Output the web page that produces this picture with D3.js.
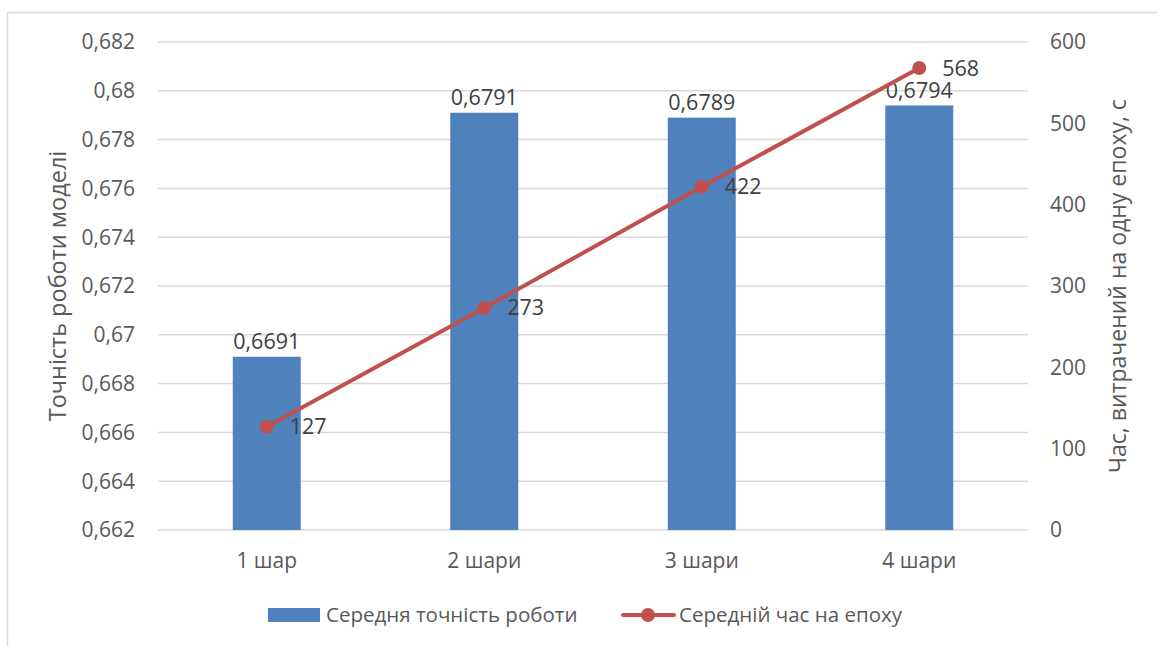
<!DOCTYPE html>
<html>
<head>
<meta charset="utf-8">
<script src="https://cdn.jsdelivr.net/npm/d3@7"></script>
<style>
  html, body { margin: 0; padding: 0; background: #fff; }
  svg { display: block; }
  text { font-family: "Open Sans", "Noto Sans", sans-serif; fill: #595959; }
</style>
</head>
<body>
<svg id="chart" width="1157" height="646"></svg>
<script>
// Categories: number of layers
const categories = ["1 шар", "2 шари", "3 шари", "4 шари"];
// Mean model accuracy (bars, left axis)
const accuracy = [0.6691, 0.6791, 0.6789, 0.6794];
// Mean time per epoch, seconds (line, right axis)
const epochTime = [127, 273, 422, 568];
// Axis ticks
const leftTicks = [0.662, 0.664, 0.666, 0.668, 0.670, 0.672, 0.674, 0.676, 0.678, 0.680, 0.682];
const rightTicks = [0, 100, 200, 300, 400, 500, 600];
const seriesNames = ["Середня точність роботи", "Середній час на епоху"];
const leftTitle = "Точність роботи моделі";
const rightTitle = "Час, витрачений на одну епоху, с";

const svg = d3.select("#chart");
const W = 1157, H = 646;
const plot = { left: 158, right: 1028, top: 42, bottom: 530 };
const barColor = "#4f81bd", lineColor = "#c0504d", gridColor = "#d9d9d9";

const commaFmt = v => String(v).replace(".", ",");

// Outer chart frame
svg.append("path")
  .attr("d", `M7.5,${H} L7.5,12.5 L${W},12.5`)
  .attr("fill", "none").attr("stroke", gridColor).attr("stroke-width", 1.5);

const x = d3.scaleBand().domain(categories).range([plot.left, plot.right]).paddingInner(0).paddingOuter(0);
const yL = d3.scaleLinear().domain([0.662, 0.682]).range([plot.bottom, plot.top]);
const yR = d3.scaleLinear().domain([0, 600]).range([plot.bottom, plot.top]);

// Gridlines
svg.append("g").selectAll("line").data(leftTicks).join("line")
  .attr("x1", plot.left).attr("x2", plot.right)
  .attr("y1", d => yL(d)).attr("y2", d => yL(d))
  .attr("stroke", gridColor).attr("stroke-width", 1.5);

// Left axis labels
const fmtL = v => commaFmt(+v.toFixed(3));
svg.append("g").selectAll("text").data(leftTicks).join("text")
  .attr("x", 135).attr("y", d => yL(d)).attr("dy", "0.35em")
  .attr("text-anchor", "end").style("font-size", "21px")
  .text(fmtL);

// Right axis labels
svg.append("g").selectAll("text").data(rightTicks).join("text")
  .attr("x", 1050).attr("y", d => yR(d)).attr("dy", "0.35em")
  .attr("text-anchor", "start").style("font-size", "21px")
  .text(d => d);

// Category labels
svg.append("g").selectAll("text").data(categories).join("text")
  .attr("x", d => x(d) + x.bandwidth() / 2).attr("y", 561).attr("dy", "0.35em")
  .attr("text-anchor", "middle").style("font-size", "21px")
  .text(d => d);

// Axis titles
svg.append("text")
  .attr("transform", `translate(58,${(plot.top + plot.bottom) / 2}) rotate(-90)`)
  .attr("text-anchor", "middle").attr("dy", "0.35em").style("font-size", "23.5px")
  .text(leftTitle);
svg.append("text")
  .attr("transform", `translate(1118,${(plot.top + plot.bottom) / 2}) rotate(-90)`)
  .attr("text-anchor", "middle").attr("dy", "0.35em").style("font-size", "23px")
  .text(rightTitle);

// Bars
const barW = x.bandwidth() * 0.3125;
svg.append("g").selectAll("rect").data(categories).join("rect")
  .attr("x", d => x(d) + (x.bandwidth() - barW) / 2)
  .attr("width", barW)
  .attr("y", (d, i) => yL(accuracy[i]))
  .attr("height", (d, i) => plot.bottom - yL(accuracy[i]))
  .attr("fill", barColor);

// Bar value labels
svg.append("g").selectAll("text").data(categories).join("text")
  .attr("x", d => x(d) + x.bandwidth() / 2)
  .attr("y", (d, i) => yL(accuracy[i]) - 15).attr("dy", "0.35em")
  .attr("text-anchor", "middle").style("font-size", "21.5px").style("fill", "#404040")
  .text((d, i) => commaFmt(accuracy[i]));

// Line series
const cx = d => x(d) + x.bandwidth() / 2;
const line = d3.line().x((d, i) => cx(categories[i])).y(d => yR(d));
svg.append("path").datum(epochTime)
  .attr("d", line).attr("fill", "none")
  .attr("stroke", lineColor).attr("stroke-width", 4).attr("stroke-linecap", "round");
svg.append("g").selectAll("circle").data(epochTime).join("circle")
  .attr("cx", (d, i) => cx(categories[i])).attr("cy", d => yR(d)).attr("r", 7)
  .attr("fill", lineColor);
svg.append("g").selectAll("text").data(epochTime).join("text")
  .attr("x", (d, i) => cx(categories[i]) + 23).attr("y", d => yR(d)).attr("dy", "0.35em")
  .attr("text-anchor", "start").style("font-size", "21.5px").style("fill", "#404040")
  .text(d => d);

// Legend
const lg = svg.append("g");
lg.append("rect").attr("x", 268).attr("y", 608).attr("width", 52).attr("height", 14).attr("fill", barColor);
lg.append("text").attr("x", 326).attr("y", 615).attr("dy", "0.35em").style("font-size", "20.5px").text(seriesNames[0]);
lg.append("line").attr("x1", 623).attr("x2", 674).attr("y1", 615).attr("y2", 615)
  .attr("stroke", lineColor).attr("stroke-width", 4).attr("stroke-linecap", "round");
lg.append("circle").attr("cx", 648).attr("cy", 615).attr("r", 7).attr("fill", lineColor);
lg.append("text").attr("x", 679).attr("y", 615).attr("dy", "0.35em").style("font-size", "20.5px").text(seriesNames[1]);
</script>
</body>
</html>
